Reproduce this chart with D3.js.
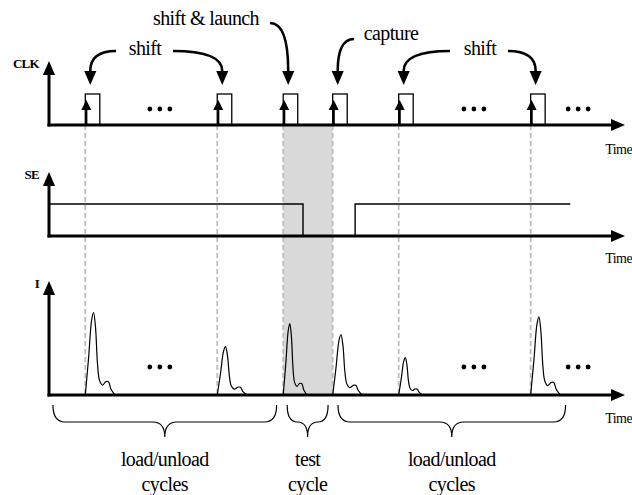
<!DOCTYPE html>
<html>
<head>
<meta charset="utf-8">
<script src="https://cdn.jsdelivr.net/npm/d3@7"></script>
<style>
  body { margin: 0; background: #fff; }
</style>
</head>
<body>
<div id="app"></div>
<script>
// time axis is in arbitrary units (one shift period = 10)
const clockEdges = [5.5, 25.5, 35.5, 43, 53, 73];
const clockWidth = 2.2;
const seTimes = [0, 38.5, 46.4, 79];
const seValues = [1, 0, 1, 1];
const peakCurrent = [75, 44, 65, 55, 34, 71];
const peakWidth = [1, 1, 0.8, 1, 0.8, 1];
// shape of one current pulse: [time after edge, share of peak]
const pulseShape = [[0, 0], [0.5, 0.45], [0.95, 0.9], [1.25, 1], [1.55, 0.82], [1.85, 0.38],
    [2.15, 0.18], [2.6, 0.12], [3.1, 0.16], [3.5, 0.16], [3.9, 0.07], [4.5, 0]];
const dotTimes = [16.8, 64.4, 80.2];
const braceSpans = [[0.6, 34.5], [36.1, 42.3], [43.8, 78.3]];
const braceLabels = [["load/unload", "cycles"], ["test", "cycle"], ["load/unload", "cycles"]];
const annotationLabels = ["shift", "shift & launch", "capture", "shift"];
const testCycle = [35.5, 43];

const serif = '"Liberation Serif", "Times New Roman", "DejaVu Serif", serif';

const draw = () => {
    const width = 632;
    const height = 495;

    const svg = d3.select('#app')
        .append('svg')
        .attr('width', width)
        .attr('height', height)
        .attr('font-family', serif);

    const defs = svg.append('defs');
    defs.append('marker')
        .attr('id', 'head')
        .attr('markerUnits', 'userSpaceOnUse')
        .attr('markerWidth', 14).attr('markerHeight', 14)
        .attr('viewBox', '0 -6 12 12')
        .attr('refX', 0).attr('refY', 0)
        .attr('orient', 'auto')
        .append('path')
        .attr('d', 'M0,-5.2L12,0L0,5.2Z')
        .attr('fill', '#000');
    defs.append('marker')
        .attr('id', 'small')
        .attr('markerUnits', 'userSpaceOnUse')
        .attr('markerWidth', 12).attr('markerHeight', 12)
        .attr('viewBox', '0 -6 10 12')
        .attr('refX', 0).attr('refY', 0)
        .attr('orient', 'auto')
        .append('path')
        .attr('d', 'M0,-5L10,0L0,5Z')
        .attr('fill', '#000');

    const x = d3.scaleLinear().domain([0, 87]).range([49, 623]);
    const yClk = d3.scaleLinear().domain([0, 1]).range([125, 94]);
    const ySe = d3.scaleLinear().domain([0, 1]).range([236, 204]);
    const yI = d3.scaleLinear().domain([0, 100]).range([395, 285]);

    // shaded test cycle
    svg.append('rect')
        .attr('x', x(testCycle[0]))
        .attr('y', yClk(0))
        .attr('width', x(testCycle[1]) - x(testCycle[0]))
        .attr('height', yI(0) - yClk(0))
        .attr('fill', '#d9d9d9');

    // dashed guides at every rising edge
    svg.selectAll('line.guide')
        .data(clockEdges)
        .enter()
        .append('line')
        .attr('x1', d => x(d)).attr('x2', d => x(d))
        .attr('y1', yClk(0)).attr('y2', yI(0))
        .attr('stroke', '#bdbdbd')
        .attr('stroke-width', 1.8)
        .attr('stroke-dasharray', '5,3');

    // axes: one per signal
    const panels = [
        { name: 'CLK', y: yClk, tip: 63, label: 68, time: 154 },
        { name: 'SE', y: ySe, tip: 174, label: 179, time: 263 },
        { name: 'I', y: yI, tip: 283, label: 288, time: 423 }
    ];
    panels.forEach(p => {
        const base = p.y(0);
        svg.append('line')
            .attr('x1', x(0)).attr('x2', x(0))
            .attr('y1', base + 1.5).attr('y2', p.tip + 12)
            .attr('stroke', '#000').attr('stroke-width', 3)
            .attr('marker-end', 'url(#head)');
        svg.append('line')
            .attr('x1', x(0) - 1.5).attr('x2', x(87) - 12)
            .attr('y1', base).attr('y2', base)
            .attr('stroke', '#000').attr('stroke-width', 3)
            .attr('marker-end', 'url(#head)');
        svg.append('text')
            .attr('x', x(0) - 10).attr('y', p.label)
            .attr('text-anchor', 'end')
            .attr('font-size', 13).attr('font-weight', 'bold')
            .attr('letter-spacing', -0.7)
            .text(p.name);
        svg.append('text')
            .attr('x', 632).attr('y', p.time)
            .attr('text-anchor', 'end')
            .attr('font-size', 14).attr('letter-spacing', -0.6)
            .text('Time');
    });

    // clock pulses
    svg.selectAll('rect.clk')
        .data(clockEdges)
        .enter()
        .append('rect')
        .attr('x', d => x(d))
        .attr('y', yClk(1))
        .attr('width', x(clockWidth) - x(0))
        .attr('height', yClk(0) - yClk(1))
        .attr('fill', 'none')
        .attr('stroke', '#000')
        .attr('stroke-width', 1.3);

    svg.selectAll('line.edge')
        .data(clockEdges)
        .enter()
        .append('line')
        .attr('x1', d => x(d) + 1).attr('x2', d => x(d) + 1)
        .attr('y1', yClk(0)).attr('y2', 110)
        .attr('stroke', '#000').attr('stroke-width', 2.2)
        .attr('marker-end', 'url(#small)');

    // scan enable
    const seLine = d3.line()
        .x(d => x(d[0]))
        .y(d => ySe(d[1]))
        .curve(d3.curveStepAfter);
    svg.append('path')
        .attr('d', seLine(seTimes.map((t, i) => [t, seValues[i]])))
        .attr('fill', 'none')
        .attr('stroke', '#000')
        .attr('stroke-width', 1.4);

    // current pulses
    const iLine = d3.line()
        .x(d => x(d[0]))
        .y(d => yI(d[1]))
        .curve(d3.curveCatmullRom.alpha(0.5));
    clockEdges.forEach((edge, i) => {
        const pts = pulseShape.map(s => [edge + s[0] * peakWidth[i], s[1] * peakCurrent[i]]);
        svg.append('path')
            .attr('d', iLine(pts))
            .attr('fill', 'none')
            .attr('stroke', '#000')
            .attr('stroke-width', 1.2);
    });

    // ellipses
    [109, 367].forEach(yy => {
        dotTimes.forEach(t => {
            [-10, 0, 10].forEach(off => {
                svg.append('circle')
                    .attr('cx', x(t) + off).attr('cy', yy)
                    .attr('r', 2.4).attr('fill', '#000');
            });
        });
    });

    // braces under the current trace
    const braceTop = 405, braceMid = 422, braceTip = 437;
    braceSpans.forEach((s, i) => {
        const a = x(s[0]), b = x(s[1]), m = (a + b) / 2;
        const r = Math.min(12, (b - a) / 4);
        const p = d3.path();
        p.moveTo(a, braceTop);
        p.quadraticCurveTo(a, braceMid, a + r, braceMid);
        p.lineTo(m - r, braceMid);
        p.quadraticCurveTo(m, braceMid, m, braceTip);
        p.quadraticCurveTo(m, braceMid, m + r, braceMid);
        p.lineTo(b - r, braceMid);
        p.quadraticCurveTo(b, braceMid, b, braceTop);
        svg.append('path')
            .attr('d', p.toString())
            .attr('fill', 'none')
            .attr('stroke', '#000')
            .attr('stroke-width', 1.2);
        braceLabels[i].forEach((t, j) => {
            svg.append('text')
                .attr('x', m).attr('y', 466 + j * 25)
                .attr('text-anchor', 'middle')
                .attr('font-size', 20).attr('letter-spacing', -0.6)
                .text(t);
        });
    });

    // annotation labels and curved arrows
    const labelPos = [[145, 55], [206, 25], [391, 40], [480, 55]];
    annotationLabels.forEach((t, i) => {
        svg.append('text')
            .attr('x', labelPos[i][0]).attr('y', labelPos[i][1])
            .attr('text-anchor', 'middle')
            .attr('font-size', 20).attr('letter-spacing', -0.6)
            .text(t);
    });
    const arrows = [
        { from: [116, 51], edge: 0 },
        { from: [173, 51], edge: 1 },
        { from: [270, 23], edge: 2 },
        { from: [354, 39], edge: 3 },
        { from: [450, 51], edge: 4 },
        { from: [508, 51], edge: 5 }
    ];
    arrows.forEach(a => {
        const tx = x(clockEdges[a.edge]) + 5;
        const p = d3.path();
        p.moveTo(a.from[0], a.from[1]);
        p.quadraticCurveTo(tx, a.from[1], tx, 71);
        svg.append('path')
            .attr('d', p.toString())
            .attr('fill', 'none')
            .attr('stroke', '#000')
            .attr('stroke-width', 2.6)
            .attr('marker-end', 'url(#head)');
    });
};

draw();
</script>
</body>
</html>
